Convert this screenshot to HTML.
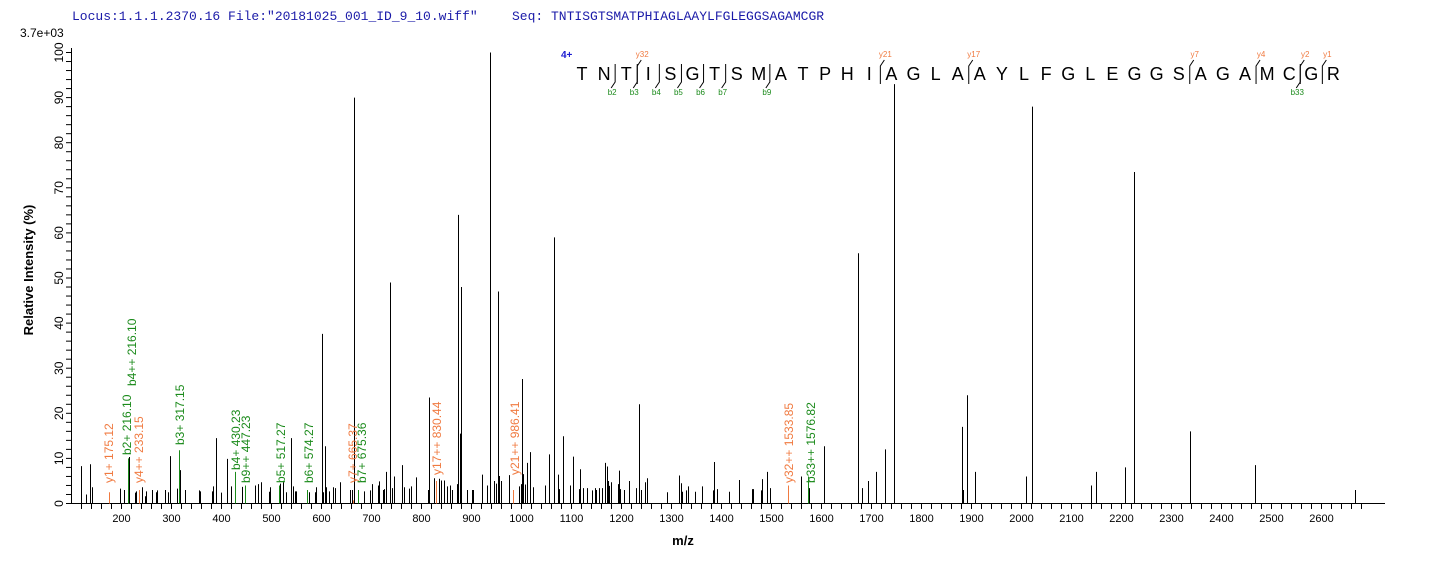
<!DOCTYPE html>
<html><head><meta charset="utf-8"><style>
html,body{margin:0;padding:0;background:#fff;}
svg{display:block;font-family:"Liberation Sans",sans-serif;}
</style></head><body>
<svg width="1436" height="562" viewBox="0 0 1436 562" xmlns="http://www.w3.org/2000/svg">
<text x="72" y="20" font-family="Liberation Mono,monospace" font-size="13" fill="#1a1aa8">Locus:1.1.1.2370.16 File:"20181025_001_ID_9_10.wiff"</text>
<text x="512" y="20" font-family="Liberation Mono,monospace" font-size="13" fill="#1a1aa8">Seq: TNTISGTSMATPHIAGLAAYLFGLEGGSAGAMCGR</text>
<text x="20" y="37" font-size="12" fill="#000">3.7e+03</text>
<g id="axes" stroke="#000" stroke-width="1" fill="none">
<line x1="71.5" y1="48" x2="71.5" y2="503.5"/>
<line x1="71" y1="503.5" x2="1385" y2="503.5"/>
</g>
<g id="yt"></g><g id="xt"></g><g id="pk"></g><g id="lb"></g><g id="sq"></g>
<text transform="translate(33,270) rotate(-90)" text-anchor="middle" font-size="13" font-weight="bold">Relative   Intensity (%)</text>
<text x="683" y="545" text-anchor="middle" font-size="13" font-weight="bold">m/z</text>
</svg>
<script>
const NS="http://www.w3.org/2000/svg";
function el(p,t,a,txt){const e=document.createElementNS(NS,t);for(const k in a)e.setAttribute(k,a[k]);if(txt!==undefined)e.textContent=txt;document.getElementById(p).appendChild(e);return e;}
const Y=v=>503.5-v*4.51, X=m=>121.5+(m-200)*0.5;
for(let v=0;v<=100;v+=2){const y=Y(v);el('yt','line',{x1:66,x2:71,y1:y,y2:y,stroke:'#000'});
 if(v%10==0)el('yt','text',{transform:`translate(63,${y}) rotate(-90)`,'text-anchor':'middle','font-size':12},v);}
for(let m=100;m<=2680;m+=20){const x=X(m);if(x<73)continue;el('xt','line',{x1:x,x2:x,y1:503.5,y2:509,stroke:'#000'});
 if(m%100==0)el('xt','text',{x:x,y:522,'text-anchor':'middle','font-size':11},m);}
const pk=[[81,8.3],[86,2],[90,8.7],[92,3.6],[120,3.3],[124,3],[128,2.4],[129,10.3],[135,2.4],[136,2.7],[142,3.6],[145,1.6],[146,2.7],[152,3],[156,2.5],[157,2.9],[165,3],[168,2.5],[170,10.5],[177,3.3],[180,7.4],[185,3],[199,2.9],[200,2.7],[212,2.7],[213,3.8],[216,14.5],[221,2.4],[227,9.9],[231,3.8],[242,3.7],[255,4],[258,4.3],[261,4.7],[269,2.6],[270,3.6],[280,4.4],[283,4.7],[286,2.5],[291,14.5],[293,3.8],[295,2.7],[296,2.7],[309,2.5],[315,2.5],[316,3.6],[322,37.6],[323,2.5],[325,12.7],[326,3.6],[329,2.7],[333,3.6],[335,3.4],[340,4.7],[350,3],[352,3],[354,90],[364,2.7],[370,2.9],[372,4.3],[378,4],[379,4.9],[383,3],[384,3.2],[386,7],[390,49],[392,3.4],[394,6],[402,8.5],[404,3.6],[409,3.3],[411,3.8],[416,5.8],[428,3],[429,23.5],[434,5.6],[439,5.5],[441,5.1],[444,5.1],[447,3.8],[450,4],[452,3],[457,4.3],[458,64],[460,15.5],[461,48],[467,3],[472,3],[473,3],[482,6.4],[487,4],[490,100],[494,5],[496,4.4],[498,47],[499,6.1],[501,5],[509,6.3],[519,3.8],[521,4.3],[522,27.6],[523,6.5],[525,4.2],[527,9],[530,11.4],[533,3.6],[545,4],[549,10.9],[554,59],[558,6.4],[559,3.2],[563,14.9],[570,4],[573,10.4],[579,3.2],[580,7.6],[583,3.4],[587,3.4],[592,2.9],[595,3.4],[596,3],[599,3.4],[602,3.4],[605,9],[607,8.2],[608,5],[609,3.9],[611,4.7],[618,4.3],[619,7.3],[620,3.2],[624,3],[629,5],[636,3.4],[639,22],[641,3],[645,4.7],[647,5.6],[667,2.5],[679,6.2],[681,4.5],[682,2.6],[686,2.9],[688,3.8],[695,2.6],[702,3.8],[713,2.9],[714,9.2],[717,3.2],[729,2.6],[739,5.2],[752,3.2],[753,3.2],[761,2.9],[762,5.4],[767,7],[770,3.4],[801,6],[809,3.4],[824,12.7],[858,55.5],[862,3.4],[868,5],[876,7],[885,12],[894,93],[962,17],[963,3],[967,24],[975,7],[1026,6],[1032,88],[1091,4],[1096,7],[1125,8],[1134,73.5],[1190,16],[1255,8.5],[1355,3]];
pk.forEach(([x,v])=>el('pk','line',{x1:x+.5,x2:x+.5,y1:503.5,y2:Y(v),stroke:'#000'}));
const G='#1a8a1a',O='#f07a40';
const ion=[[109,2.5,O],[128,10,G],[179,11.8,G],[139,3,O],[235,7,G],[245,4,G],[279,4,G],[307,3,G],[353,0.7,O],[358,3,G],[436,5,O],[513,3,O],[788,4,O],[808,6,G]];
ion.forEach(([x,v,c])=>el('pk','line',{x1:x+.5,x2:x+.5,y1:503.5,y2:Y(v),stroke:c}));
const lb=[[113,483,'y1+ 175.12',O],[131,455,'b2+ 216.10',G],[136,386,'b4++ 216.10',G],[143,483,'y4++ 233.15',O],[184,445,'b3+ 317.15',G],[240,470,'b4+ 430.23',G],[250,483,'b9++ 447.23',G],[285,483,'b5+ 517.27',G],[313,483,'b6+ 574.27',G],[357,483,'y7+ 665.37',O],[366,483,'b7+ 675.36',G],[441,475,'y17++ 830.44',O],[519,475,'y21++ 986.41',O],[793,483,'y32++ 1533.85',O],[815,483,'b33++ 1576.82',G]];
lb.forEach(([x,y,t,c])=>el('lb','text',{transform:`translate(${x},${y}) rotate(-90)`,'font-size':12,fill:c},t));
const s="TNTISGTSMATPHIAGLAAYLFGLEGGSAGAMCGR";const sp=22.1,x0=582;
for(let i=0;i<s.length;i++)el('sq','text',{x:x0+i*sp,y:80,'text-anchor':'middle','font-size':18},s[i]);
el('sq','text',{x:561,y:58,'font-size':10,'font-weight':'bold',fill:'#1a1ad0'},'4+');
const bx=i=>x0+(i-0.5)*sp;
[[2,'b2'],[3,'b3'],[4,'b4'],[5,'b5'],[6,'b6'],[7,'b7'],[9,'b9'],[33,'b33']].forEach(([i,t])=>{const x=bx(i);
 el('sq','polyline',{points:`${x},64 ${x},82 ${x-4},88`,stroke:'#000',fill:'none'});
 el('sq','text',{x:x-3,y:95,'text-anchor':'middle','font-size':8,fill:G},t);});
[[3,'y32'],[14,'y21'],[18,'y17'],[28,'y7'],[31,'y4'],[33,'y2'],[34,'y1']].forEach(([i,t])=>{const x=bx(i);
 el('sq','polyline',{points:`${x},84 ${x},66 ${x+4},60`,stroke:'#000',fill:'none'});
 el('sq','text',{x:x+5,y:57,'text-anchor':'middle','font-size':8,fill:O},t);});
</script>
</body></html>
